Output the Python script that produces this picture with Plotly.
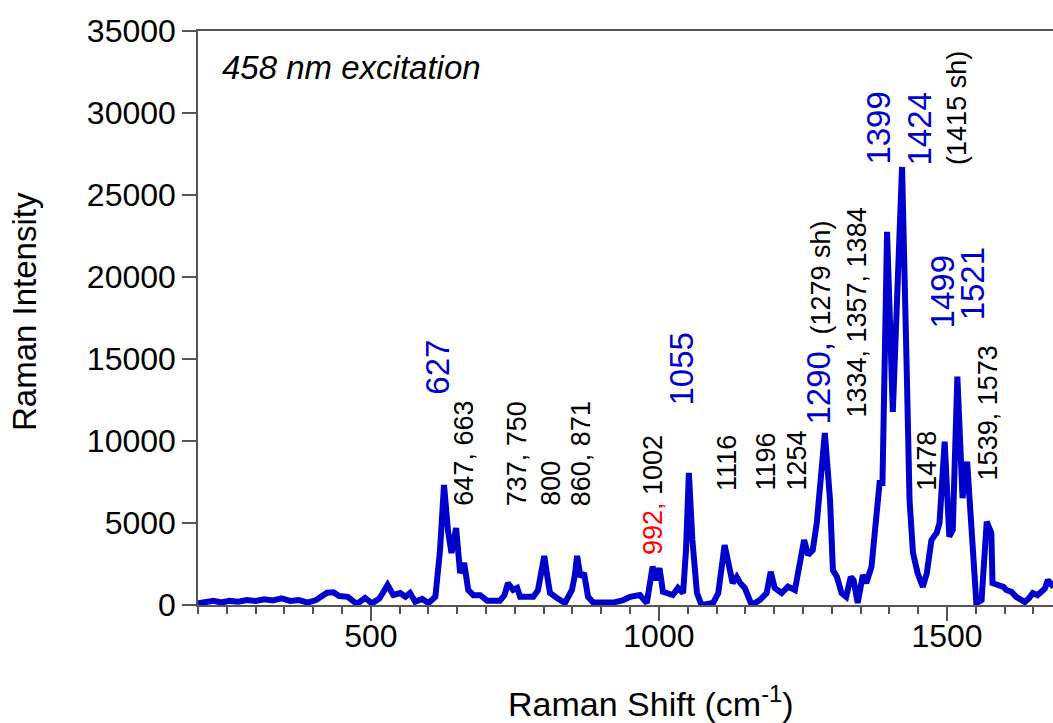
import plotly.graph_objects as go

# Spectrum (Raman shift in cm-1, intensity)
shift = [200, 210, 227, 240, 255, 270, 285, 300, 315, 330, 345, 360, 375, 390, 405,
         424, 435, 445, 460, 476, 490, 502, 515, 529, 539, 551, 560, 568, 577, 589,
         600, 612, 620, 627, 634, 640, 648, 655, 662, 669, 678, 690, 702, 724, 732,
         738, 747, 754, 759, 771, 782, 790, 795, 801, 806, 811, 823, 837, 849, 854,
         858, 864, 870, 877, 886, 921, 938, 950, 967, 979, 989, 995, 1001, 1007, 1024,
         1033, 1042, 1047, 1052, 1058, 1066, 1074, 1094, 1103, 1114, 1128, 1135, 1141, 1149, 1161,
         1175, 1187, 1194, 1201, 1213, 1224, 1236, 1245, 1252, 1259, 1267, 1274, 1280, 1288, 1297,
         1302, 1309, 1317, 1325, 1333, 1338, 1345, 1354, 1360, 1369, 1378, 1383, 1388, 1396, 1406,
         1422, 1430, 1435, 1441, 1449, 1458, 1465, 1473, 1482, 1487, 1496, 1504, 1510, 1518, 1527,
         1535, 1542, 1551, 1560, 1569, 1577, 1579, 1586, 1591, 1598, 1603, 1612, 1620, 1628, 1635,
         1642, 1649, 1657, 1664, 1670, 1675, 1685]
intensity = [100, 150, 260, 150, 250, 200, 300, 250, 350, 280, 400, 250, 300, 150, 300,
             750, 780, 550, 500, 60, 430, 100, 400, 1220, 610, 730, 500, 730, 200, 370,
             120, 500, 3300, 7320, 4500, 3170, 4700, 1950, 2560, 915, 600, 600, 260, 260, 600,
             1340, 915, 1040, 500, 500, 500, 900, 1800, 2990, 1800, 730, 430, 120, 915, 1800,
             2990, 1700, 1950, 500, 150, 150, 300, 500, 610, 120, 2340, 1520, 2250, 810, 610,
             1040, 730, 3350, 8050, 4000, 730, 0, 120, 730, 3650, 1340, 1710, 1340, 1040, 0,
             300, 730, 2030, 1040, 730, 1120, 915, 2950, 3960, 3050, 3350, 5000, 7800, 10490, 6400,
             2130, 1710, 730, 500, 1710, 1500, 120, 1830, 1340, 2340, 5180, 7440, 7440, 22750, 11770,
             26710, 14500, 6400, 3170, 1950, 1100, 1950, 3960, 4390, 5000, 9960, 4170, 4570, 13920, 6520,
             8740, 4390, 120, 300, 5080, 4390, 1340, 1250, 1220, 1100, 915, 800, 500, 350, 180,
             400, 730, 600, 790, 1000, 1520, 1100]

# Peak labels: text, x position (cm-1), bottom y position (intensity), style
label_text = ["627", "647, 663", "737, 750", "800", "860, 871",
              "<span style='color:#FF0000'>992,</span> 1002", "1055", "1116", "1196", "1254",
              "<span style='color:#0000CC;font-size:33px'>1290,</span> (1279 sh)",
              "1334, 1357, 1384", "1399", "1424", "(1415 sh)", "1478", "1499", "1521",
              "1539, 1573"]
label_x = [615, 662, 755, 813, 866, 990, 1040, 1118, 1185, 1239, 1277, 1343,
           1382, 1453, 1517, 1465, 1493, 1545, 1571]
label_y = [12680, 5915, 5915, 5915, 5915, 2930, 12070, 6830, 6830, 6830, 10850, 11280,
           26700, 26700, 26700, 6830, 16770, 17260, 7500]
label_kind = ["blue", "black", "black", "black", "black", "black", "blue", "black", "black",
              "black", "black", "black", "blue", "blue", "black", "black", "blue", "blue", "black"]

x_ticks = [500, 1000, 1500]
x_tick_text = ["500", "1000", "1500"]
y_ticks = [0, 5000, 10000, 15000, 20000, 25000, 30000, 35000]
y_tick_text = ["0", "5000", "10000", "15000", "20000", "25000", "30000", "35000"]

FONT = "Liberation Sans, Arial, sans-serif"
BLUE = "#0000CC"

fig = go.Figure()
fig.add_trace(go.Scatter(x=shift, y=intensity, mode="lines",
                         line=dict(color=BLUE, width=6), showlegend=False))

annotations = []
for t, x, y, k in zip(label_text, label_x, label_y, label_kind):
    annotations.append(dict(
        x=x, y=y, xref="x", yref="y", text=t, showarrow=False, textangle=-90,
        xanchor="center", yanchor="bottom",
        font=dict(family=FONT, size=33 if k == "blue" else 27,
                  color=BLUE if k == "blue" else "black")))

annotations.append(dict(x=239, y=32770, xref="x", yref="y", text="<i>458 nm excitation</i>",
                        showarrow=False, xanchor="left", yanchor="middle",
                        font=dict(family=FONT, size=33, color="black")))
# axis titles
annotations.append(dict(x=0.5298, y=-0.168, xref="paper", yref="paper",
                        text="Raman Shift (cm<sup>-1</sup>)", showarrow=False,
                        xanchor="center", yanchor="middle",
                        font=dict(family=FONT, size=34, color="black")))
annotations.append(dict(x=-0.2023, y=0.5105, xref="paper", yref="paper",
                        text="Raman Intensity", showarrow=False, textangle=-90,
                        xanchor="center", yanchor="middle",
                        font=dict(family=FONT, size=33, color="black")))

fig.update_layout(
    width=1053, height=723,
    margin=dict(l=198, r=0, t=31, b=118),
    paper_bgcolor="white", plot_bgcolor="white",
    font=dict(family=FONT, color="black"),
    annotations=annotations,
    xaxis=dict(range=[200, 1684], tickvals=x_ticks, ticktext=x_tick_text, ticks="outside",
               ticklen=14, tickcolor="#555", tickwidth=1.5, showline=True, linecolor="#555",
               linewidth=1.5, mirror=True, showgrid=False, zeroline=False,
               tickfont=dict(size=32, family=FONT), ticklabelstandoff=-12,
               minor=dict(dtick=50, tick0=0, ticks="outside", ticklen=7,
                          tickcolor="#555", tickwidth=1.5, showgrid=False)),
    yaxis=dict(range=[0, 35000], tickvals=y_ticks, ticktext=y_tick_text, ticks="outside",
               ticklen=14, tickcolor="#555", tickwidth=1.5, showline=True, linecolor="#555",
               linewidth=1.5, showgrid=False, zeroline=False,
               tickfont=dict(size=32, family=FONT)),
)

fig.write_html("out.html")
